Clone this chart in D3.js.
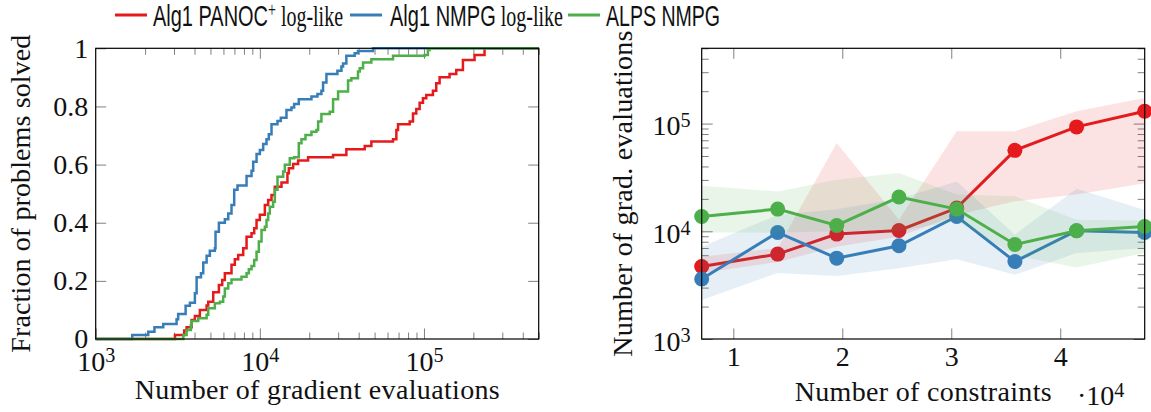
<!DOCTYPE html>
<html>
<head>
<meta charset="utf-8">
<script src="https://cdn.jsdelivr.net/npm/d3@7"></script>
<style>
  body { margin: 0; background: #fff; }
  svg { display: block; }
  .tick line { stroke: #808080; stroke-width: 1; }
  .tick text { font-family: "Liberation Serif", serif; font-size: 28px; fill: #111; }
  .lab { font-family: "Liberation Serif", serif; font-size: 28px; fill: #111; }
</style>
</head>
<body>
<svg width="1151" height="412"></svg>
<script>
// ---- left: performance profiles (grad evals, fraction solved) ----
var profRed = [[1e3,0],[3040,0.014],[3460,0.029],[3580,0.04],[3840,0.065],[4020,0.079],[4310,0.1],[4740,0.115],[4850,0.128],[5200,0.161],[5630,0.186],[5900,0.203],[6120,0.226],[6720,0.255],[7040,0.274],[7380,0.289],[7920,0.312],[8300,0.352],[8900,0.364],[9240,0.381],[9550,0.409],[10000,0.427],[10730,0.461],[11240,0.478],[11780,0.495],[12340,0.524],[13550,0.538],[14730,0.57],[15020,0.587],[15950,0.602],[17110,0.614],[19680,0.625],[27940,0.633],[33660,0.653],[43550,0.664],[47800,0.679],[64770,0.687],[67880,0.719],[69480,0.739],[81840,0.748],[85730,0.776],[89790,0.791],[94100,0.813],[98600,0.828],[103300,0.839],[113400,0.854],[118800,0.88],[124500,0.9],[143200,0.912],[157300,0.925],[172700,0.96],[203300,0.977],[233900,1],[5e5,1]];
var profBlue = [[1e3,0],[1670,0.014],[2090,0.025],[2280,0.04],[2580,0.052],[3110,0.068],[3180,0.086],[3530,0.114],[3750,0.125],[4020,0.157],[4120,0.212],[4380,0.226],[4520,0.263],[4740,0.286],[4960,0.304],[5320,0.312],[5370,0.369],[5630,0.4],[6120,0.412],[6420,0.432],[6720,0.461],[6980,0.513],[7310,0.528],[8300,0.561],[8900,0.579],[9110,0.61],[9550,0.636],[10000,0.65],[10480,0.671],[10980,0.687],[11340,0.704],[11780,0.739],[12810,0.75],[13420,0.761],[14530,0.788],[15580,0.796],[16180,0.808],[17270,0.825],[20630,0.834],[22440,0.843],[23720,0.854],[24280,0.882],[25450,0.912],[29690,0.923],[31410,0.937],[32140,0.948],[33660,0.974],[37830,0.983],[39630,0.991],[48950,1],[5e5,1]];
var profGreen = [[1e3,0],[3420,0.014],[3580,0.031],[3800,0.048],[3840,0.062],[4215,0.071],[4740,0.083],[4850,0.106],[5320,0.123],[5710,0.128],[5980,0.146],[6120,0.174],[6420,0.192],[6720,0.205],[7730,0.214],[8300,0.226],[8570,0.24],[8900,0.251],[9240,0.272],[9550,0.3],[9860,0.335],[10240,0.375],[10730,0.386],[10980,0.409],[11240,0.432],[11500,0.455],[12050,0.472],[12340,0.513],[12810,0.558],[13870,0.576],[14200,0.599],[15220,0.622],[16180,0.625],[17270,0.673],[17930,0.687],[18970,0.702],[20630,0.713],[22130,0.719],[22650,0.748],[23720,0.774],[26660,0.782],[27940,0.825],[29970,0.851],[34470,0.889],[36110,0.897],[39630,0.92],[40610,0.931],[42540,0.951],[47800,0.962],[64770,0.974],[100900,0.977],[105700,0.994],[108250,1],[5e5,1]];
var fracTicks = [0, 0.2, 0.4, 0.6, 0.8, 1];

// ---- right: grad evals vs number of constraints ----
var nCons = [7100, 14070, 19490, 25200, 30500, 35840, 41500, 47750];
var redMed = [4710, 6140, 9420, 10180, 16440, 56450, 93150, 130200];
var redLo = [4100, 5200, 7200, 8900, 14200, 19000, 22000, 28000];
var redHi = [5800, 7000, 66000, 12800, 85000, 85000, 130000, 173000];
var blueMed = [3610, 9750, 5630, 7330, 13740, 5240, 10110, 9750];
var blueLo = [2300, 4100, 3850, 4550, 5500, 3940, 6300, 7000];
var blueHi = [7200, 14200, 16000, 20000, 29000, 9300, 24800, 15800];
var greenMed = [13740, 16080, 11330, 20800, 16080, 7540, 10110, 11090];
var greenLo = [9750, 9750, 10000, 10000, 12500, 6000, 4600, 6300];
var greenHi = [26500, 23400, 30100, 34800, 22000, 21100, 12800, 12500];
var consTicks = [10000, 20000, 30000, 40000];

var RED = "#e41a1c", BLUE = "#377eb8", GREEN = "#4daf4a";

var svg = d3.select("svg");
var yTop = 48.3, yBot = 339;

function sup(sel) {
	sel.selectAll(".tick text").each(function(d) {
		d3.select(this).append("tspan").attr("dy", "-0.42em").attr("font-size", "0.72em")
			.text(Math.round(Math.log10(d)));
	});
}
function isPow(v) { return Math.abs(Math.log10(v) - Math.round(Math.log10(v))) < 1e-9; }

// ================= LEFT =================
var L = {x0: 95.7, x1: 538.7};
var xL = d3.scaleLog().domain([1e3, 5e5]).range([L.x0, L.x1]);
var yL = d3.scaleLinear().domain([0, 1]).range([yBot, yTop]);
var gl = svg.append("g");

var minorL = xL.ticks().filter(function(v) { return !isPow(v); });
gl.append("g").attr("transform", "translate(0," + yBot + ")")
	.call(d3.axisBottom(xL).tickValues(minorL).tickSize(-6.5).tickFormat(""));
gl.append("g").attr("transform", "translate(0," + yTop + ")")
	.call(d3.axisTop(xL).tickValues(minorL).tickSize(-6.5).tickFormat(""));
gl.append("g").attr("transform", "translate(0," + yTop + ")")
	.call(d3.axisTop(xL).tickValues([1e4, 1e5]).tickSize(-10.5).tickFormat(""));
gl.append("g").attr("transform", "translate(0," + yBot + ")")
	.call(d3.axisBottom(xL).tickValues([1e3, 1e4, 1e5]).tickSize(-10.5).tickPadding(12).tickFormat(function() { return "10"; }))
	.call(sup);
gl.append("g").attr("transform", "translate(" + L.x0 + ",0)")
	.call(d3.axisLeft(yL).tickValues(fracTicks).tickSize(-10.5).tickPadding(7.5)
		.tickFormat(function(d) { return d === 0 || d === 1 ? String(d) : d.toFixed(1); }));
gl.append("g").attr("transform", "translate(" + L.x1 + ",0)")
	.call(d3.axisRight(yL).tickValues(fracTicks).tickSize(-10.5).tickFormat(""));
gl.selectAll(".domain").remove();

var step = d3.line().curve(d3.curveStepAfter)
	.x(function(d) { return xL(d[0]); }).y(function(d) { return yL(d[1]); });
[[profRed, RED], [profBlue, BLUE], [profGreen, GREEN]].forEach(function(s) {
	gl.append("path").attr("d", step(s[0])).attr("fill", "none")
		.attr("stroke", s[1]).attr("stroke-width", 2.5);
});
gl.append("rect").attr("x", L.x0).attr("y", yTop).attr("width", L.x1 - L.x0).attr("height", yBot - yTop)
	.attr("fill", "none").attr("stroke", "#000").attr("stroke-width", 1.2);

gl.append("text").attr("class", "lab").attr("x", (L.x0 + L.x1) / 2).attr("y", 399)
	.attr("text-anchor", "middle").attr("textLength", 365).text("Number of gradient evaluations");
gl.append("text").attr("class", "lab").attr("transform", "translate(30," + (yTop + yBot) / 2 + ") rotate(-90)")
	.attr("text-anchor", "middle").attr("textLength", 318).text("Fraction of problems solved");

// ================= RIGHT =================
var R = {x0: 701.7, x1: 1144.7};
var xR = d3.scaleLinear().domain(d3.extent(nCons)).range([R.x0, R.x1]);
var yR = d3.scaleLog().domain([1e3, 5e5]).range([yBot, yTop]);
var gr = svg.append("g");

var minorR = yR.ticks().filter(function(v) { return !isPow(v); });
gr.append("g").attr("transform", "translate(" + R.x0 + ",0)")
	.call(d3.axisLeft(yR).tickValues(minorR).tickSize(-7).tickFormat(""));
gr.append("g").attr("transform", "translate(" + R.x1 + ",0)")
	.call(d3.axisRight(yR).tickValues(minorR).tickSize(-7).tickFormat(""));
gr.append("g").attr("transform", "translate(" + R.x0 + ",0)")
	.call(d3.axisLeft(yR).tickValues([1e3, 1e4, 1e5]).tickSize(-11).tickPadding(11).tickFormat(function() { return "10"; }))
	.call(sup);
gr.selectAll(".tick text").attr("dy", "0.4em");
gr.append("g").attr("transform", "translate(" + R.x1 + ",0)")
	.call(d3.axisRight(yR).tickValues([1e3, 1e4, 1e5]).tickSize(-11).tickFormat(""));
gr.append("g").attr("transform", "translate(0," + yBot + ")")
	.call(d3.axisBottom(xR).tickValues(consTicks).tickSize(-10.5).tickPadding(7.5)
		.tickFormat(function(d) { return d / 1e4; }));
gr.append("g").attr("transform", "translate(0," + yTop + ")")
	.call(d3.axisTop(xR).tickValues(consTicks).tickSize(-10.5).tickFormat(""));
gr.selectAll(".domain").remove();

var plot = gr.append("g");
function band(lo, hi) {
	return d3.area().x(function(d, i) { return xR(nCons[i]); })
		.y0(function(d, i) { return yR(lo[i]); }).y1(function(d, i) { return yR(hi[i]); })(nCons);
}
var lineR = d3.line().x(function(d, i) { return xR(nCons[i]); }).y(function(d) { return yR(d); });
[[redMed, redLo, redHi, RED], [blueMed, blueLo, blueHi, BLUE], [greenMed, greenLo, greenHi, GREEN]].forEach(function(s) {
	plot.append("path").attr("d", band(s[1], s[2])).attr("fill", s[3]).attr("fill-opacity", 0.12);
	plot.append("path").attr("d", lineR(s[0])).attr("fill", "none").attr("stroke", s[3]).attr("stroke-width", 3);
	plot.selectAll(null).data(s[0]).enter().append("circle")
		.attr("cx", function(d, i) { return xR(nCons[i]); }).attr("cy", function(d) { return yR(d); })
		.attr("r", 7.5).attr("fill", s[3]);
});
gr.append("rect").attr("x", R.x0).attr("y", yTop).attr("width", R.x1 - R.x0).attr("height", yBot - yTop)
	.attr("fill", "none").attr("stroke", "#000").attr("stroke-width", 1.2);

gr.append("text").attr("class", "lab").attr("x", (R.x0 + R.x1) / 2).attr("y", 401)
	.attr("text-anchor", "middle").attr("textLength", 257).text("Number of constraints");
var sc = gr.append("text").attr("class", "lab").attr("x", 1077).attr("y", 405);
sc.append("tspan").text("\u00b710");
sc.append("tspan").attr("dy", "-0.42em").attr("font-size", "0.72em").text("4");
gr.append("text").attr("class", "lab").attr("transform", "translate(632," + (yTop + yBot) / 2 + ") rotate(-90)")
	.attr("text-anchor", "middle").attr("textLength", 326).text("Number of grad. evaluations");

// ================= LEGEND =================
var legend = [
	{color: RED, x: 115, sans: "Alg1 PANOC", sup: "+", serif: " log-like", tx: 153, w: 190},
	{color: BLUE, x: 350, sans: "Alg1 NMPG", sup: "", serif: " log-like", tx: 390, w: 173},
	{color: GREEN, x: 568, sans: "ALPS NMPG", sup: "", serif: "", tx: 606, w: 114}
];
var lg = svg.append("g");
legend.forEach(function(d) {
	lg.append("line").attr("x1", d.x).attr("x2", d.x + 32).attr("y1", 15).attr("y2", 15)
		.attr("stroke", d.color).attr("stroke-width", 3);
	var t = lg.append("text").attr("x", d.tx).attr("y", 26).attr("font-size", 30)
		.attr("textLength", d.w).attr("lengthAdjust", "spacingAndGlyphs").attr("fill", "#111");
	t.append("tspan").attr("font-family", "Liberation Sans, sans-serif").text(d.sans);
	if (d.sup) t.append("tspan").attr("font-family", "Liberation Serif, serif").attr("font-size", 21).attr("dy", -9).text(d.sup);
	if (d.serif) t.append("tspan").attr("font-family", "Liberation Serif, serif").attr("dy", d.sup ? 9 : 0).text(d.serif);
});
</script>
</body>
</html>
